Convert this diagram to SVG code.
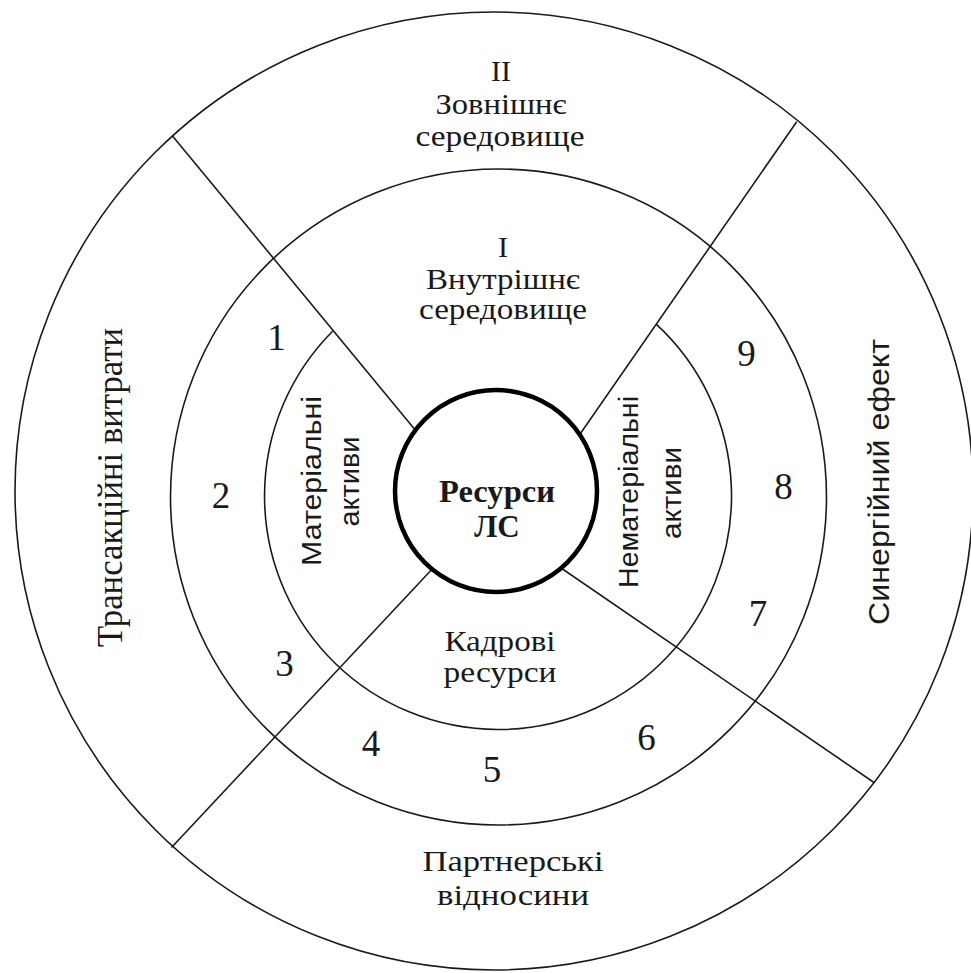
<svg xmlns="http://www.w3.org/2000/svg" width="971" height="973" viewBox="0 0 971 973">
<style>
.ring{fill:none;stroke:#1a1a1a;stroke-width:1.6}
.conn{stroke:#1a1a1a;stroke-width:1.6;fill:none}
.core{fill:#fff;stroke:#000;stroke-width:4.5}
.serif{font-family:"Liberation Serif","Times New Roman",serif;fill:#1a1a1a;text-anchor:middle}
.sans{font-family:"Liberation Sans",Arial,sans-serif;fill:#1a1a1a;text-anchor:middle}
.lbl{font-size:30px}
.num{font-size:37px}
</style>
<rect width="971" height="973" fill="#fff"/>
<g id="rings">
<circle class="ring" cx="494" cy="491" r="479"/>
<circle class="ring" cx="498.5" cy="497" r="328"/>
<path class="ring" d="M656.4 324.4 A233.5 233.5 0 1 1 332.6 331.2"/>
</g>
<g id="connectors">
<line class="conn" x1="172.3" y1="135.7" x2="440" y2="460"/>
<line class="conn" x1="796.7" y1="121.7" x2="560" y2="463"/>
<line class="conn" x1="171.5" y1="847.5" x2="450" y2="550"/>
<line class="conn" x1="874" y1="782.5" x2="545" y2="557"/>
</g>
<g id="core">
<circle class="core" cx="496" cy="491" r="101"/>
<text class="serif" font-size="31" font-weight="bold" x="497" y="502" textLength="116" lengthAdjust="spacingAndGlyphs">Ресурси</text>
<text class="serif" font-size="31" font-weight="bold" x="497" y="537">ЛС</text>
</g>
<g id="external">
<text class="serif lbl" x="501" y="81">II</text>
<text class="serif lbl" x="501" y="114" textLength="131" lengthAdjust="spacingAndGlyphs">Зовнішнє</text>
<text class="serif lbl" x="500" y="146" textLength="169" lengthAdjust="spacingAndGlyphs">середовище</text>
</g>
<g id="internal">
<text class="serif lbl" x="503" y="257">I</text>
<text class="serif lbl" x="503" y="289" textLength="154" lengthAdjust="spacingAndGlyphs">Внутрішнє</text>
<text class="serif lbl" x="503" y="319" textLength="168" lengthAdjust="spacingAndGlyphs">середовище</text>
</g>
<g id="staff">
<text class="serif lbl" x="500" y="651" textLength="111" lengthAdjust="spacingAndGlyphs">Кадрові</text>
<text class="serif lbl" x="500" y="682" textLength="113" lengthAdjust="spacingAndGlyphs">ресурси</text>
</g>
<g id="partners">
<text class="serif lbl" x="513" y="871" textLength="181" lengthAdjust="spacingAndGlyphs">Партнерські</text>
<text class="serif lbl" x="513" y="905" textLength="152" lengthAdjust="spacingAndGlyphs">відносини</text>
</g>
<g id="transaction">
<text class="serif" font-size="35" transform="translate(122 487.5) rotate(-90)" textLength="319" lengthAdjust="spacingAndGlyphs">Трансакційні витрати</text>
</g>
<g id="synergy">
<text class="sans" font-size="30" transform="translate(888.5 482) rotate(-90)" textLength="286" lengthAdjust="spacingAndGlyphs">Синергійний ефект</text>
</g>
<g id="material">
<text class="sans" font-size="27" transform="translate(321 481) rotate(-90)" textLength="170" lengthAdjust="spacingAndGlyphs">Матеріальні</text>
<text class="sans" font-size="27" transform="translate(359 481.5) rotate(-90)" textLength="90" lengthAdjust="spacingAndGlyphs">активи</text>
</g>
<g id="intangible">
<text class="sans" font-size="27" transform="translate(638 492) rotate(-90)" textLength="192" lengthAdjust="spacingAndGlyphs">Нематеріальні</text>
<text class="sans" font-size="27" transform="translate(681 493) rotate(-90)" textLength="92" lengthAdjust="spacingAndGlyphs">активи</text>
</g>
<g id="numbers">
<text class="serif num" x="276.5" y="350">1</text>
<text class="serif num" x="221" y="507.5">2</text>
<text class="serif num" x="284.5" y="676">3</text>
<text class="serif num" x="371" y="756">4</text>
<text class="serif num" x="492" y="782">5</text>
<text class="serif num" x="646.5" y="750">6</text>
<text class="serif num" x="758" y="625.5">7</text>
<text class="serif num" x="783.5" y="498.5">8</text>
<text class="serif num" x="746.5" y="366">9</text>
</g>
</svg>
